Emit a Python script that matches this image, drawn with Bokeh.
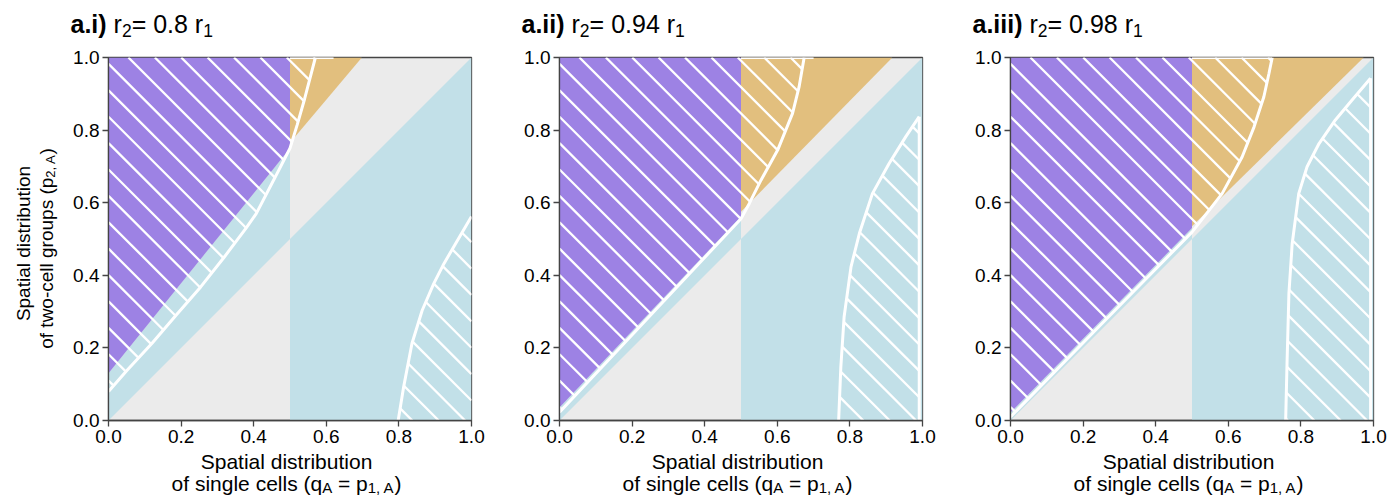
from math import pi, ceil, floor
from bokeh.plotting import figure
from bokeh.layouts import row, column
from bokeh.models import Range1d, FixedTicker, PrintfTickFormatter, Label
from bokeh.embed import file_html
from bokeh.resources import INLINE

# ---------------- data ----------------
PANEL_TAGS = ["a.i)", "a.ii)", "a.iii)"]
R_RATIOS = ["0.8", "0.94", "0.98"]
TICKS = [0.0, 0.2, 0.4, 0.6, 0.8, 1.0]
SPLIT_Q = 0.5  # vertical division of the regions

# straight region boundaries
PURPLE_Y_AT_0 = [0.13, 0.036, 0.022]
PURPLE_Y_AT_SPLIT = [0.75, 0.562, 0.530]
ORANGE_Y_AT_SPLIT = [0.765, 0.575, 0.535]
ORANGE_X_AT_TOP = [0.698, 0.917, 0.973]

# upper-left hatched region boundary (white curve)
UPPER_X_1 = [0.0, 0.05, 0.12, 0.186, 0.254, 0.318, 0.379, 0.407, 0.46, 0.5, 0.52, 0.54, 0.57]
UPPER_Y_1 = [0.08, 0.137, 0.213, 0.29, 0.368, 0.449, 0.53, 0.57, 0.672, 0.75, 0.815, 0.885, 1.0]
UPPER_X_2 = [0.0, 0.25, 0.5, 0.523, 0.555, 0.601, 0.642, 0.660, 0.674]
UPPER_Y_2 = [0.023, 0.289, 0.556, 0.598, 0.662, 0.745, 0.846, 0.919, 1.0]
UPPER_X_3 = [0.0, 0.25, 0.5, 0.583, 0.638, 0.671, 0.698, 0.712, 0.721]
UPPER_Y_3 = [0.01, 0.265, 0.519, 0.625, 0.726, 0.809, 0.892, 0.956, 1.0]
TOP_EDGE_X_END = [0.62, 0.70, 0.72]   # white contour along the top edge, from x = SPLIT_Q

# lower-right hatched region boundary (white curve)
LOWER_X_1 = [0.798, 0.813, 0.836, 0.864, 0.896, 0.924, 0.956, 1.0]
LOWER_Y_1 = [0.0, 0.092, 0.212, 0.303, 0.377, 0.432, 0.487, 0.562]
LOWER_X_2 = [0.769, 0.775, 0.784, 0.803, 0.826, 0.862, 0.908, 0.954, 0.991]
LOWER_Y_2 = [0.0, 0.147, 0.285, 0.423, 0.515, 0.625, 0.708, 0.782, 0.837]
LOWER_X_3 = [0.758, 0.762, 0.767, 0.776, 0.794, 0.817, 0.85, 0.895, 0.941, 0.992]
LOWER_Y_3 = [0.0, 0.166, 0.35, 0.487, 0.625, 0.699, 0.763, 0.828, 0.883, 0.943]
LOWER_EDGE_X = [1.0, 0.991, 0.992]
LOWER_EDGE_DRAWN = [False, True, True]

UPPER_X = [UPPER_X_1, UPPER_X_2, UPPER_X_3]
UPPER_Y = [UPPER_Y_1, UPPER_Y_2, UPPER_Y_3]
LOWER_X = [LOWER_X_1, LOWER_X_2, LOWER_X_3]
LOWER_Y = [LOWER_Y_1, LOWER_Y_2, LOWER_Y_3]

X_LABEL_1 = "Spatial distribution"
X_LABEL_2 = [("of single cells (q", "m"), ("A", "s"), (" = ", "m"), ("p", "m"), ("1, A", "s"), (")", "m")]
Y_LABEL_1 = "Spatial distribution"
Y_LABEL_2 = [("of two-cell groups (p", "m"), ("2, A", "s"), (")", "m")]

# ---------------- style ----------------
FONT = "Liberation Sans"
FR = 363
GRAY = "#ebebeb"
BLUE = "#c2e0e8"
PURPLE = "#9d82e4"
TAN = "#e2bf7e"
AXC = "#444444"
HATCH_STEP = 0.0727
HATCH_PHASE = 1.055
MID = 0.3465   # (ascent - descent) / 2, in em, for the sans font

W = {'a': 556, 'b': 556, 'c': 500, 'd': 556, 'e': 556, 'f': 278, 'g': 556, 'h': 556, 'i': 222,
     'j': 222, 'k': 500, 'l': 222, 'm': 833, 'n': 556, 'o': 556, 'p': 556, 'q': 556, 'r': 333,
     's': 500, 't': 278, 'u': 556, 'v': 500, 'w': 722, 'x': 500, 'y': 500, 'z': 500, 'A': 667,
     'S': 667, ' ': 278, '(': 333, ')': 333, ',': 278, '-': 333, '.': 278, '=': 584}
WB = {'a': 556, '.': 278, 'i': 278, ')': 333, ' ': 278}


def tw(s, size, bold=False):
    tot = 0
    for c in s:
        tot += WB.get(c, W.get(c, 556)) if bold else W.get(c, 556)
    return tot * size / 1000.0


def add_rich(p, pieces, x, y, sizes, angle=0.0, align="left"):
    """Place a run of text pieces (main / subscript / bold); (x, y) is the baseline, in pixels."""
    main, sub, drop = sizes
    widths = [tw(t, sub if k == "s" else main, k == "b") for t, k in pieces]
    off = -sum(widths) / 2 if align == "center" else 0.0
    for (t, k), wdt in zip(pieces, widths):
        sz = sub if k == "s" else main
        d = (drop if k == "s" else 0.0) - MID * sz
        lead = tw(t[:len(t) - len(t.lstrip(" "))], sz, k == "b")
        o = off + lead
        if angle == 0.0:
            px, py = x + o, y - d
        else:
            px, py = x + d, y + o
        p.add_layout(Label(x=px, y=py, text=t.strip(" "), angle=angle,
                           text_align="left", text_baseline="middle",
                           text_font=FONT, text_font_size=f"{sz}px",
                           text_font_style="bold" if k == "b" else "normal",
                           text_color="black"))
        off += wdt


def hatch_segments(px, py):
    """45-degree hatch lines (x + y = const) clipped to a polygon."""
    n = len(px)
    u = [a + b for a, b in zip(px, py)]
    kmin = ceil((min(u) - HATCH_PHASE) / HATCH_STEP)
    kmax = floor((max(u) - HATCH_PHASE) / HATCH_STEP)
    xs, ys = [], []
    for k in range(kmin, kmax + 1):
        c = HATCH_PHASE + k * HATCH_STEP
        pts = []
        for j in range(n):
            x1, y1, u1 = px[j], py[j], u[j]
            x2, y2, u2 = px[(j + 1) % n], py[(j + 1) % n], u[(j + 1) % n]
            if (u1 <= c < u2) or (u2 <= c < u1):
                t = (c - u1) / (u2 - u1)
                pts.append((x1 + t * (x2 - x1), y1 + t * (y2 - y1)))
        pts.sort()
        for a in range(0, len(pts) - 1, 2):
            xs.append([pts[a][0], pts[a + 1][0]])
            ys.append([pts[a][1], pts[a + 1][1]])
    return xs, ys


def strip(width, height, **kw):
    s = figure(frame_width=width, frame_height=height, x_range=Range1d(0, width), y_range=Range1d(0, height),
               x_axis_type=None, y_axis_type=None, title=None,
               min_border_left=0, min_border_right=0, min_border_top=0, min_border_bottom=0,
               output_backend="svg", toolbar_location=None, outline_line_color=None,
               background_fill_color=None, border_fill_color=None, **kw)
    s.grid.visible = False
    return s


TOP_B, BOT_B = 10, 42


def make_panel(i, left, right):
    p = figure(frame_width=FR, frame_height=FR, x_range=Range1d(0, 1), y_range=Range1d(0, 1),
               output_backend="svg", toolbar_location=None, title=None,
               min_border_left=left, min_border_right=right, min_border_top=TOP_B, min_border_bottom=BOT_B,
               background_fill_color=GRAY, border_fill_color="white",
               outline_line_color=AXC, outline_line_width=1.3)
    p.grid.visible = False
    for ax in (p.xaxis, p.yaxis):
        ax.ticker = FixedTicker(ticks=TICKS)
        ax.formatter = PrintfTickFormatter(format="%.1f")
        ax.major_label_text_font = FONT
        ax.major_label_text_font_size = "19px"
        ax.major_label_text_color = "black"
        ax.major_tick_out = 6
        ax.major_tick_in = 0
        ax.minor_tick_line_color = None
        ax.axis_line_color = AXC
        ax.major_tick_line_color = AXC
        ax.axis_line_width = 1.3
        ax.major_tick_line_width = 1.3
    p.yaxis.major_label_standoff = 3
    p.xaxis.major_label_standoff = 3

    # coloured regions
    p.patch([0, SPLIT_Q, SPLIT_Q, 0], [0, SPLIT_Q, PURPLE_Y_AT_SPLIT[i], PURPLE_Y_AT_0[i]],
            fill_color=BLUE, line_color=None)
    p.patch([SPLIT_Q, 1, 1, SPLIT_Q], [0, 0, 1, SPLIT_Q], fill_color=BLUE, line_color=None)
    p.patch([0, SPLIT_Q, SPLIT_Q, 0], [PURPLE_Y_AT_0[i], PURPLE_Y_AT_SPLIT[i], 1, 1],
            fill_color=PURPLE, line_color=None)
    p.patch([SPLIT_Q, ORANGE_X_AT_TOP[i], SPLIT_Q], [ORANGE_Y_AT_SPLIT[i], 1, 1],
            fill_color=TAN, line_color=None)

    # hatched regions
    ux, uy = UPPER_X[i], UPPER_Y[i]
    lx, ly = LOWER_X[i], LOWER_Y[i]
    for polx, poly in ((ux + [0], uy + [1]), (lx + [LOWER_EDGE_X[i]], ly + [0])):
        hx, hy = hatch_segments(polx, poly)
        p.multi_line(hx, hy, line_color="white", line_width=2.3)
    p.line(ux, uy, line_color="white", line_width=3)
    p.line(lx, ly, line_color="white", line_width=3)
    p.line([SPLIT_Q, TOP_EDGE_X_END[i]], [1, 1], line_color="white", line_width=3)
    if LOWER_EDGE_DRAWN[i]:
        p.line([LOWER_EDGE_X[i], LOWER_EDGE_X[i]], [0, ly[-1]], line_color="white", line_width=3)
    return p


# layout geometry (pixels)
TOP_H, LEFT_W = 47, 70
ROW_H = TOP_B + FR + BOT_B          # 415
OVERLAP = 14
BOT_H = 497 - TOP_H - ROW_H + OVERLAP
p1 = make_panel(0, 36, 20)
p2 = make_panel(1, 68, 20)
p3 = make_panel(2, 68, 17)
frame_lefts = [106, 557, 1008]

top = strip(1388, TOP_H)
bottom = strip(1388, BOT_H, margin=(-OVERLAP, 0, 0, 0))
leftstrip = strip(LEFT_W, ROW_H)

for i in range(3):
    add_rich(top, [(PANEL_TAGS[i], "b"), (" r", "m"), ("2", "s"), ("= " + R_RATIOS[i] + " r", "m"), ("1", "s")],
             frame_lefts[i] - 36, TOP_H - 32, (25, 17.5, 4))
    cx = frame_lefts[i] + 180
    add_rich(bottom, [(X_LABEL_1, "m")], cx, 497 - 468, (21, 15, 2), align="center")
    add_rich(bottom, X_LABEL_2, cx, 497 - 490, (21, 15, 2), align="center")

row_bottom = TOP_H + ROW_H
add_rich(leftstrip, [(Y_LABEL_1, "m")], 30, row_bottom - 233, (19, 13, 2), angle=pi / 2, align="center")
add_rich(leftstrip, Y_LABEL_2, 53, row_bottom - 238, (19, 13, 2), angle=pi / 2, align="center")

layout = column(top, row(leftstrip, p1, p2, p3), bottom)

open("out.html", "w").write(file_html(layout, INLINE))
